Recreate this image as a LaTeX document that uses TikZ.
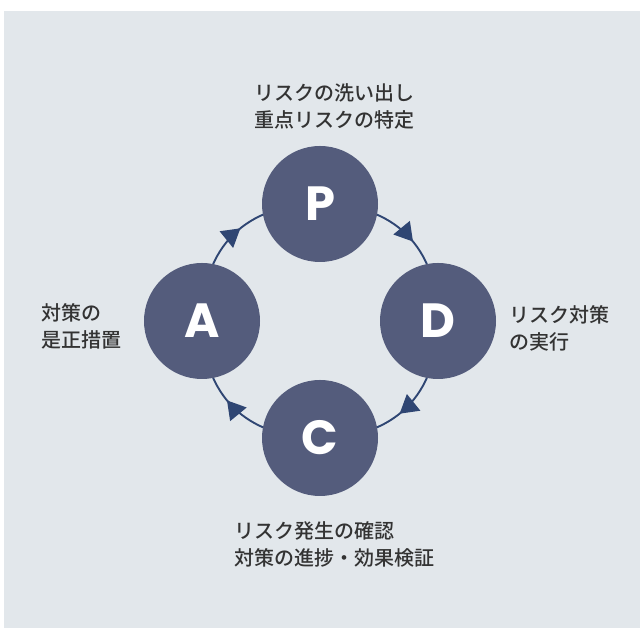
\documentclass[tikz,border=0pt]{standalone}
\usepackage{fontspec}
\newfontfamily\jpfont{Noto Sans CJK JP}[UprightFont=* Medium]
\newfontfamily\letterfont{Poppins}
\usetikzlibrary{backgrounds,decorations.markings,arrows.meta}
\definecolor{bgc}{HTML}{E2E7EB}
\definecolor{circ}{HTML}{545C7C}
\definecolor{arcc}{HTML}{2F4673}
\definecolor{txt}{HTML}{333333}
\tikzset{
  phase/.style={circle, fill=circ, minimum size=116pt, inner sep=0pt, text=white,
    font=\letterfont\bfseries\fontsize{48}{48}\selectfont},
  lbl/.style={anchor=north west, inner sep=0pt, align=left, text=txt,
    font=\jpfont\fontsize{20}{27}\selectfont},
  cyc/.style={draw=arcc, line width=1.9pt, bend left=45, looseness=1.14,
    postaction={decorate}, decoration={markings,
      mark=at position 0.55 with {\arrow{Triangle[length=18pt,width=21pt]}}}}
}
\begin{document}
\begin{tikzpicture}[x=1pt,y=1pt]
\useasboundingbox (0,0) rectangle (640,628);
\node[phase] (P) at (320,424) {P};
\node[phase] (D) at (438,307) {D};
\node[phase] (C) at (320,190) {C};
\node[phase] (A) at (202,307) {A};
\begin{scope}[on background layer]
\fill[bgc] (4,0) rectangle (640,617);
\draw[cyc] (P.center) to (D.center);
\draw[cyc] (D.center) to (C.center);
\draw[cyc] (C.center) to (A.center);
\draw[cyc] (A.center) to (P.center);
\end{scope}
\node[lbl] (tP) at (254,545) {リスクの洗い出し\\重点リスクの特定};
\node[lbl] (tD) at (509,323) {リスク対策\\の実行};
\node[lbl] (tC) at (234,107) {リスク発生の確認\\対策の進捗・効果検証};
\node[lbl] (tA) at (41,325) {対策の\\是正措置};
\end{tikzpicture}
\end{document}
